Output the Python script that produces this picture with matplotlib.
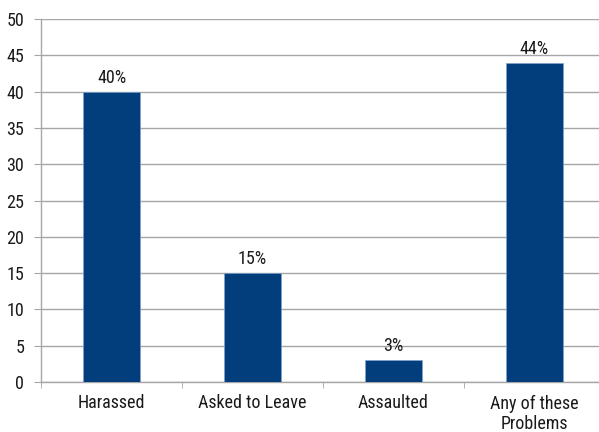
import matplotlib
matplotlib.use("Agg")
import matplotlib.pyplot as plt
from matplotlib.ticker import MultipleLocator, FixedLocator
from matplotlib import font_manager

categories = ["Harassed", "Asked to Leave", "Assaulted", "Any of these\nProblems"]
values = [40, 15, 3, 44]
value_labels = ["40%", "15%", "3%", "44%"]

names = {f.name for f in font_manager.fontManager.ttflist}
fam = next((n for n in ['Roboto Condensed', 'Liberation Sans Narrow', 'Roboto'] if n in names), 'DejaVu Sans')
plt.rcParams['font.family'] = [fam, 'DejaVu Sans']

fig = plt.figure(figsize=(5.99, 4.32), dpi=100)
W, H = 599, 432
ax = fig.add_axes([41 / W, (H - 382) / H, (605 - 41) / W, (382 - 19) / H])

fs = 13
x = list(range(len(categories)))
ax.bar(x, values, width=0.4, color="#023E7C", edgecolor="#7FA3CC", linewidth=0.5, zorder=3)
for xi, v, lab in zip(x, values, value_labels):
    ax.annotate(lab, (xi, v), xytext=(0, 3.5), textcoords="offset points",
                ha="center", va="bottom", fontsize=fs, color="#1a1a1a")

ax.set_xlim(-0.5, len(categories) - 0.5)
ax.set_ylim(0, 50)
ax.yaxis.set_major_locator(MultipleLocator(5))
ax.grid(axis="y", color="#A6A6A6", linewidth=1, zorder=0)
ax.set_xticks(x)
ax.set_xticklabels(categories, fontsize=fs, color="#1a1a1a", linespacing=1.15)
ax.tick_params(axis="x", length=0, pad=9)
ax.xaxis.set_minor_locator(FixedLocator([i + 0.5 for i in range(-1, len(categories))]))
ax.tick_params(axis="x", which="minor", length=4, color="#A6A6A6", direction="out")
ax.tick_params(axis="y", length=5, color="#A6A6A6", labelsize=fs, labelcolor="#1a1a1a", pad=7)

for s in ["top", "right"]:
    ax.spines[s].set_visible(False)
for s in ["left", "bottom"]:
    ax.spines[s].set_color("#A6A6A6")
    ax.spines[s].set_linewidth(1)

fig.savefig("out.png", dpi=100)
